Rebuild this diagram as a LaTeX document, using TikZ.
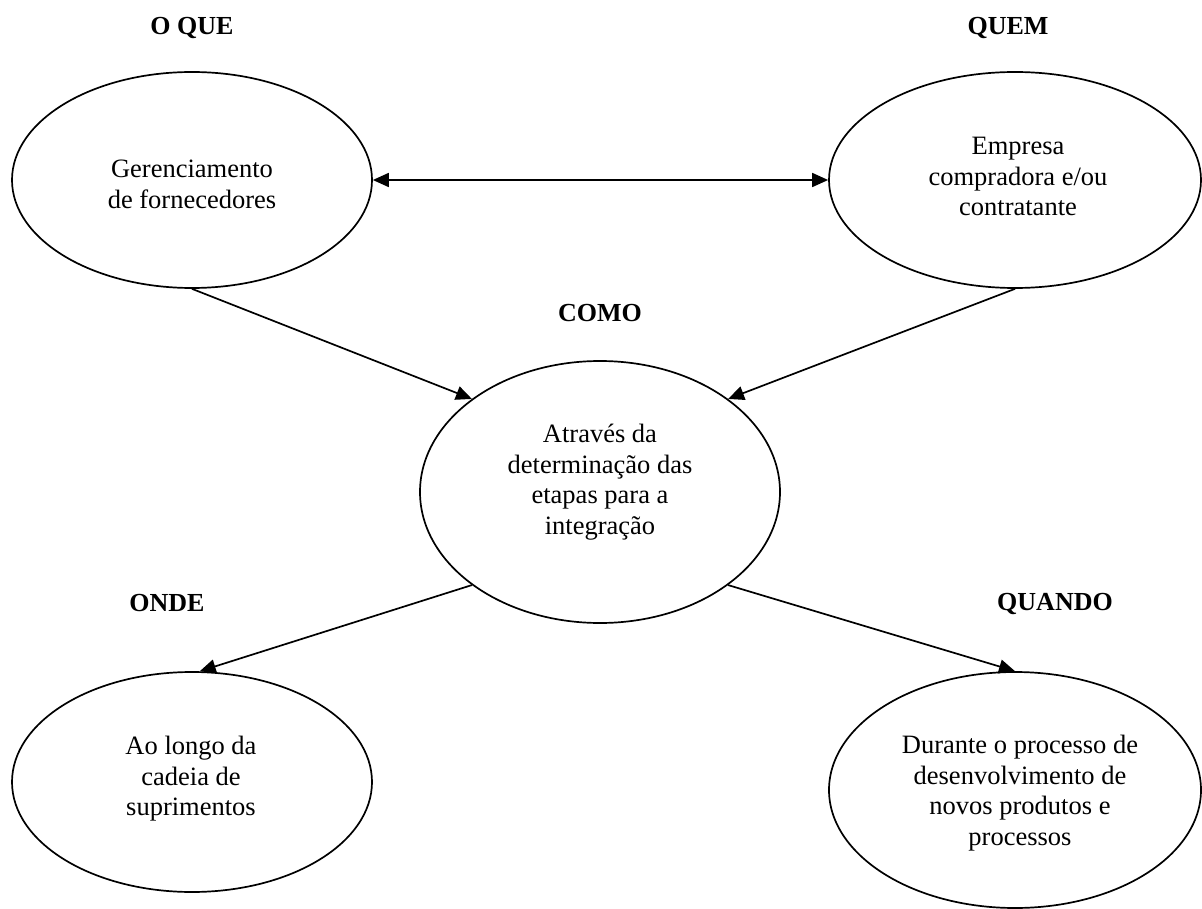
\documentclass[tikz,border=0pt]{standalone}
\usepackage{fontspec}
\setmainfont{Liberation Serif}
\usetikzlibrary{arrows.meta,shapes.geometric}
\begin{document}
\begin{tikzpicture}[x=1pt,y=-1pt,
  bubble/.style={draw, ellipse, line width=1.7pt, inner sep=0pt},
  bubbletext/.style={align=center, font=\fontsize{26.5}{30.5}\selectfont, inner sep=0pt},
  heading/.style={anchor=base, font=\fontsize{26}{30.5}\selectfont\bfseries, inner sep=0pt},
  link/.style={line width=1.7pt, -{Triangle[length=16pt,width=14pt]}},
  twoway/.style={line width=1.7pt, {Triangle[length=16pt,width=14pt]}-{Triangle[length=16pt,width=14pt]}},
]
\useasboundingbox (0,0) rectangle (1202,909);

% the five bubbles
\node[bubble, minimum width=360pt, minimum height=216pt] (what)  at (192,180) {};
\node[bubble, minimum width=372pt, minimum height=216pt] (who)   at (1015,180) {};
\node[bubble, minimum width=360pt, minimum height=262pt] (how)   at (600,492) {};
\node[bubble, minimum width=360pt, minimum height=220pt] (where) at (192,782) {};
\node[bubble, minimum width=372pt, minimum height=236pt] (when)  at (1015,790) {};

% bubble contents
\node[bubbletext] (what-txt)  at (192,184.5) {Gerenciamento\\de fornecedores};
\node[bubbletext] (who-txt)   at (1018,176.5) {Empresa\\compradora e/ou\\contratante};
\node[bubbletext] (how-txt)   at (600,482) {Através da\\determinação das\\etapas para a\\integração};
\node[bubbletext] (where-txt) at (191,779) {Ao longo da\\cadeia de\\suprimentos};
\node[bubbletext] (when-txt)  at (1020,793) {Durante o processo de\\desenvolvimento de\\novos produtos e\\processos};

% headings
\node[heading] (what-h)  at (192,35)  {O QUE};
\node[heading] (who-h)   at (1008,35) {QUEM};
\node[heading] (how-h)   at (600,322) {COMO};
\node[heading] (where-h) at (167,611) {ONDE};
\node[heading] (when-h)  at (1055,610) {QUANDO};

% connectors
\draw[twoway] (what.east) -- (who.west);
\draw[link] (what.south) -- (how.144);
\draw[link] (who.south) -- (how.36);
\draw[link] (how.216) -- (where.86);
\draw[link] (how.324) -- (when.north);
\end{tikzpicture}
\end{document}
